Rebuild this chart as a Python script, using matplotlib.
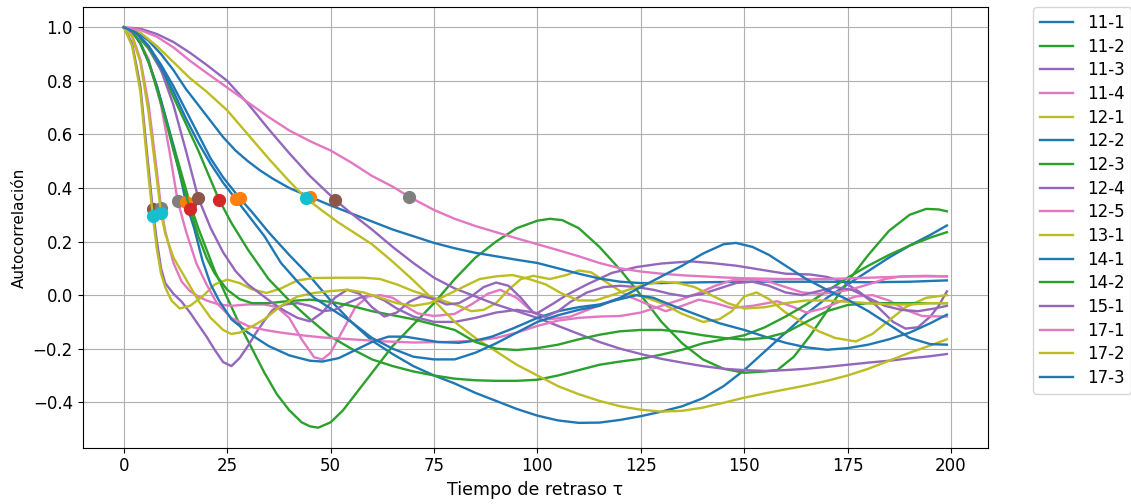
"""Autocorrelation curves per sample with their 1/e decorrelation lag."""

from __future__ import annotations

import matplotlib

matplotlib.use("Agg")
import matplotlib.pyplot as plt

LABELS = ["11-1", "11-2", "11-3", "11-4", "12-1", "12-2", "12-3", "12-4",
          "12-5", "13-1", "14-1", "14-2", "15-1", "17-1", "17-2", "17-3"]

# (lag, autocorrelation) pairs for each sample
ACF_11_1 = [(0, 1.0), (3, 0.98), (6, 0.93), (9, 0.86), (12, 0.78), (15, 0.69), (18, 0.6), (21, 0.51),
            (24, 0.44), (28, 0.362), (31, 0.31), (35, 0.235), (40, 0.15), (45, 0.07), (50, -0.02),
            (55, -0.1), (60, -0.17), (65, -0.22), (70, -0.265), (75, -0.3), (80, -0.33), (85, -0.365),
            (90, -0.395), (95, -0.425), (100, -0.45), (105, -0.468), (110, -0.477), (115, -0.476),
            (120, -0.466), (125, -0.452), (130, -0.435), (135, -0.415), (140, -0.385), (145, -0.34),
            (150, -0.28), (155, -0.21), (160, -0.14), (165, -0.07), (170, -0.01), (175, 0.04),
            (180, 0.09), (185, 0.14), (190, 0.185), (195, 0.225), (199, 0.26)]
ACF_11_2 = [(0, 1.0), (2, 0.985), (4, 0.94), (6, 0.87), (8, 0.78), (10, 0.67), (12, 0.56), (14, 0.45),
            (16, 0.342), (18, 0.25), (20, 0.17), (22, 0.09), (25, -0.01), (28, -0.11), (31, -0.2),
            (34, -0.29), (37, -0.37), (40, -0.43), (43, -0.475), (45, -0.49), (47, -0.495), (50, -0.475),
            (53, -0.43), (56, -0.37), (60, -0.29), (65, -0.19), (70, -0.11), (75, -0.03), (80, 0.06),
            (85, 0.14), (90, 0.2), (95, 0.25), (100, 0.278), (103, 0.285), (106, 0.28), (110, 0.25),
            (115, 0.18), (120, 0.095), (125, 0.0), (130, -0.1), (135, -0.18), (140, -0.24), (145, -0.275),
            (150, -0.29), (155, -0.285), (158, -0.28), (162, -0.23), (166, -0.15), (170, -0.06),
            (175, 0.05), (180, 0.15), (185, 0.24), (190, 0.3), (194, 0.322), (197, 0.32), (199, 0.313)]
ACF_11_3 = [(0, 1.0), (2, 0.94), (4, 0.78), (6, 0.47), (7, 0.32), (8, 0.2), (9, 0.1), (10, 0.045),
            (12, 0.005), (14, -0.025), (16, -0.065), (18, -0.11), (20, -0.155), (22, -0.205), (24, -0.25),
            (26, -0.265), (28, -0.235), (30, -0.19), (32, -0.14), (34, -0.095), (36, -0.055), (39, -0.035),
            (42, -0.03), (45, -0.04), (48, -0.06), (51, -0.055), (54, -0.03), (57, -0.01), (60, 0.0),
            (63, -0.02), (66, -0.05), (70, -0.08), (75, -0.1), (80, -0.1), (85, -0.085), (90, -0.065),
            (95, -0.055), (100, -0.067), (104, -0.03), (107, 0.0), (112, 0.04), (118, 0.083), (124, 0.105),
            (130, 0.118), (137, 0.126), (142, 0.12), (148, 0.11), (154, 0.095), (160, 0.08), (166, 0.077),
            (170, 0.068), (174, 0.05), (178, 0.01), (182, -0.04), (186, -0.1), (189, -0.125), (192, -0.12),
            (195, -0.08), (197, -0.04), (199, 0.014)]
ACF_11_4 = [(0, 1.0), (2, 0.97), (4, 0.88), (6, 0.71), (8, 0.46), (9, 0.327), (10, 0.24), (12, 0.12),
            (14, 0.05), (16, 0.015), (18, -0.005), (20, -0.02), (23, -0.035), (26, -0.04), (30, -0.035),
            (34, -0.035), (37, -0.045), (40, -0.085), (43, -0.165), (46, -0.232), (48, -0.24), (50, -0.215),
            (53, -0.13), (56, -0.045), (59, -0.005), (62, 0.0), (65, -0.01), (68, -0.04), (71, -0.068),
            (75, -0.078), (80, -0.07), (84, -0.035), (88, 0.005), (91, 0.02), (95, -0.01), (99, -0.065),
            (103, -0.09), (108, -0.08), (113, -0.05), (118, -0.02), (122, -0.004), (126, -0.03),
            (131, -0.06), (135, -0.04), (139, -0.017), (143, -0.03), (147, -0.048), (152, -0.04),
            (158, -0.023), (162, -0.045), (165, -0.065), (169, -0.05), (173, -0.025), (177, -0.005),
            (181, 0.0), (185, -0.02), (189, -0.055), (193, -0.078), (199, -0.08)]
ACF_12_1 = [(0, 1.0), (2, 0.93), (4, 0.76), (6, 0.44), (7, 0.297), (8, 0.17), (9, 0.08), (10, 0.03),
            (11.5, -0.02), (13.5, -0.05), (16, -0.04), (19, -0.005), (22, 0.04), (25, 0.058), (28, 0.045),
            (31, 0.022), (34.5, 0.008), (38, 0.025), (42, 0.055), (46, 0.064), (52, 0.065), (58, 0.065),
            (62, 0.06), (66, 0.04), (70, 0.015), (74, -0.005), (78, -0.025), (81, -0.04), (84, -0.06),
            (87, -0.055), (90, -0.03), (93, 0.02), (96, 0.06), (99, 0.072), (103, 0.06), (107, 0.075),
            (110, 0.092), (113, 0.085), (117, 0.045), (121, 0.005), (125, -0.002), (130, -0.03),
            (135, -0.07), (140, -0.1), (144, -0.09), (147, -0.06), (150, -0.005), (153, 0.01),
            (156, -0.015), (160, -0.065), (164, -0.1), (168, -0.135), (172, -0.16), (177, -0.173),
            (181, -0.145), (185, -0.095), (189, -0.045), (194, -0.01), (199, 0.0)]
ACF_12_2 = [(0, 1.0), (3, 0.985), (6, 0.95), (9, 0.9), (12, 0.84), (15, 0.77), (18, 0.71), (21, 0.65),
            (24, 0.59), (27, 0.54), (30, 0.5), (33, 0.465), (36, 0.435), (40, 0.4), (45, 0.367),
            (50, 0.335), (55, 0.305), (60, 0.275), (65, 0.245), (70, 0.22), (75, 0.195), (80, 0.175),
            (85, 0.158), (90, 0.145), (95, 0.132), (100, 0.12), (105, 0.1), (110, 0.08), (115, 0.062),
            (120, 0.05), (125, 0.045), (130, 0.045), (140, 0.048), (150, 0.05), (160, 0.05), (170, 0.05),
            (180, 0.048), (190, 0.05), (199, 0.055)]
ACF_12_3 = [(0, 1.0), (3, 0.975), (6, 0.92), (9, 0.84), (12, 0.74), (15, 0.64), (18, 0.54), (21, 0.43),
            (23, 0.357), (26, 0.27), (30, 0.17), (35, 0.06), (40, -0.02), (45, -0.09), (50, -0.155),
            (55, -0.2), (60, -0.24), (65, -0.265), (70, -0.285), (75, -0.3), (80, -0.312), (85, -0.318),
            (90, -0.32), (95, -0.32), (100, -0.316), (105, -0.3), (110, -0.28), (115, -0.26), (120, -0.248),
            (125, -0.238), (130, -0.222), (135, -0.204), (140, -0.18), (145, -0.165), (150, -0.15),
            (155, -0.12), (160, -0.08), (165, -0.035), (170, 0.015), (175, 0.065), (180, 0.11),
            (185, 0.15), (190, 0.185), (195, 0.215), (199, 0.235)]
ACF_12_4 = [(0, 1.0), (4, 0.995), (8, 0.975), (12, 0.945), (16, 0.905), (20, 0.86), (25, 0.8), (30, 0.715),
            (35, 0.62), (40, 0.53), (45, 0.445), (51, 0.357), (55, 0.305), (60, 0.245), (65, 0.18),
            (70, 0.12), (75, 0.065), (80, 0.025), (85, -0.005), (90, -0.035), (95, -0.06), (100, -0.085),
            (105, -0.115), (110, -0.145), (115, -0.175), (120, -0.2), (125, -0.22), (130, -0.238),
            (135, -0.252), (140, -0.265), (145, -0.275), (150, -0.28), (155, -0.283), (160, -0.28),
            (165, -0.275), (170, -0.268), (175, -0.26), (180, -0.252), (185, -0.245), (190, -0.236),
            (195, -0.228), (199, -0.22)]
ACF_12_5 = [(0, 1.0), (3, 0.97), (6, 0.88), (9, 0.71), (11, 0.54), (13, 0.353), (15, 0.24), (17.5, 0.12),
            (20, 0.04), (22.5, -0.03), (26, -0.085), (30, -0.115), (34, -0.13), (38, -0.14), (43, -0.15),
            (48, -0.158), (55, -0.165), (62, -0.172), (70, -0.177), (78, -0.175), (85, -0.17), (90, -0.16),
            (95, -0.14), (100, -0.115), (105, -0.095), (110, -0.085), (115, -0.08), (120, -0.078),
            (125, -0.065), (131, -0.035), (135, -0.015), (139, 0.008), (143, 0.035), (147, 0.055),
            (152, 0.06), (156, 0.05), (160, 0.03), (164, 0.01), (168, 0.005), (172, 0.01), (176, 0.022),
            (180, 0.04), (184, 0.06), (188, 0.07), (194, 0.072), (199, 0.07)]
ACF_13_1 = [(0, 1.0), (4, 0.98), (8, 0.93), (12, 0.87), (16, 0.81), (20, 0.76), (25, 0.69), (30, 0.6),
            (35, 0.51), (40, 0.425), (44, 0.363), (48, 0.315), (52, 0.27), (56, 0.23), (60, 0.19),
            (65, 0.125), (70, 0.055), (75, -0.02), (80, -0.1), (85, -0.16), (90, -0.21), (95, -0.26),
            (100, -0.3), (105, -0.34), (110, -0.37), (115, -0.395), (120, -0.415), (125, -0.428),
            (130, -0.435), (135, -0.432), (140, -0.42), (145, -0.402), (150, -0.383), (155, -0.367),
            (160, -0.352), (165, -0.337), (170, -0.32), (175, -0.3), (180, -0.275), (185, -0.245),
            (190, -0.215), (195, -0.188), (199, -0.165)]
ACF_14_1 = [(0, 1.0), (2, 0.985), (4, 0.94), (6, 0.87), (8, 0.78), (10, 0.67), (12, 0.55), (14, 0.42),
            (15, 0.347), (17, 0.25), (19, 0.13), (21, 0.04), (23, -0.02), (26, -0.09), (30, -0.14),
            (35, -0.19), (40, -0.225), (45, -0.245), (48, -0.248), (52, -0.235), (56, -0.205), (60, -0.175),
            (64, -0.155), (68, -0.155), (72, -0.165), (76, -0.175), (81, -0.178), (85, -0.17), (89, -0.155),
            (94, -0.125), (100, -0.085), (105, -0.06), (110, -0.045), (115, -0.035), (120, -0.015),
            (124, 0.0), (128, -0.01), (132, -0.035), (138, -0.07), (144, -0.105), (150, -0.13),
            (155, -0.155), (160, -0.178), (165, -0.195), (170, -0.204), (175, -0.198), (180, -0.185),
            (185, -0.165), (190, -0.14), (195, -0.105), (199, -0.073)]
ACF_14_2 = [(0, 1.0), (2, 0.985), (4, 0.94), (6, 0.87), (8, 0.77), (10, 0.66), (12, 0.54), (14, 0.43),
            (16, 0.322), (18, 0.22), (20, 0.14), (22, 0.08), (25, 0.02), (28, -0.015), (31, -0.03),
            (35, -0.03), (40, -0.022), (45, -0.017), (50, -0.025), (55, -0.04), (60, -0.06), (65, -0.075),
            (70, -0.09), (75, -0.11), (80, -0.13), (85, -0.175), (90, -0.2), (95, -0.205), (100, -0.198),
            (105, -0.185), (110, -0.165), (115, -0.148), (120, -0.135), (125, -0.13), (130, -0.13),
            (135, -0.137), (140, -0.15), (145, -0.16), (150, -0.166), (155, -0.16), (160, -0.14),
            (165, -0.1), (170, -0.06), (175, -0.037), (180, -0.03), (185, -0.03), (190, -0.03),
            (195, -0.03), (199, -0.03)]
ACF_15_1 = [(0, 1.0), (3, 0.98), (6, 0.93), (9, 0.84), (12, 0.71), (15, 0.54), (18, 0.363), (21, 0.25),
            (24, 0.16), (27, 0.09), (30, 0.04), (33, 0.005), (36, -0.03), (39, -0.06), (42, -0.085),
            (45, -0.098), (48, -0.065), (51, -0.01), (54, 0.02), (57, 0.005), (60, -0.045), (63, -0.08),
            (66, -0.065), (69, -0.025), (72, -0.004), (75, -0.015), (78, -0.035), (81, -0.03), (84, -0.005),
            (87, 0.03), (90, 0.047), (93, 0.035), (96, -0.01), (99, -0.065), (102, -0.08), (105, -0.06),
            (108, -0.025), (112, 0.01), (116, 0.03), (120, 0.035), (124, 0.03), (128, 0.02), (132, 0.005),
            (136, -0.005), (140, 0.005), (144, 0.025), (148, 0.045), (152, 0.05), (156, 0.035), (160, 0.01),
            (164, 0.0), (168, 0.015), (172, 0.03), (176, 0.02), (180, -0.01), (184, -0.04), (188, -0.055),
            (192, -0.06), (196, -0.05), (199, -0.04)]
ACF_17_1 = [(0, 1.0), (4, 0.99), (8, 0.965), (12, 0.925), (16, 0.875), (20, 0.83), (25, 0.775), (30, 0.72),
            (35, 0.665), (40, 0.615), (45, 0.575), (50, 0.54), (55, 0.495), (60, 0.445), (65, 0.405),
            (69, 0.367), (75, 0.318), (80, 0.285), (85, 0.258), (90, 0.235), (95, 0.212), (100, 0.19),
            (105, 0.168), (110, 0.145), (115, 0.12), (120, 0.1), (125, 0.088), (130, 0.08), (135, 0.074),
            (140, 0.07), (145, 0.066), (150, 0.063), (160, 0.06), (170, 0.06), (180, 0.065), (190, 0.07),
            (199, 0.07)]
ACF_17_2 = [(0, 1.0), (2, 0.965), (4, 0.87), (6, 0.68), (8, 0.43), (9, 0.307), (10, 0.23), (12, 0.14),
            (15, 0.06), (18, -0.02), (21, -0.085), (24, -0.13), (26, -0.145), (28, -0.14), (31, -0.117),
            (34, -0.09), (38, -0.04), (42, -0.005), (46, 0.008), (50, 0.015), (54, 0.02), (58, 0.01),
            (62, -0.01), (66, -0.03), (70, -0.04), (74, -0.03), (78, 0.0), (82, 0.03), (86, 0.06),
            (90, 0.07), (94, 0.075), (98, 0.06), (102, 0.04), (106, 0.005), (110, -0.02), (114, -0.02),
            (118, 0.0), (122, 0.02), (126, 0.04), (130, 0.05), (134, 0.045), (138, 0.03), (142, 0.0),
            (146, -0.03), (150, -0.05), (155, -0.045), (160, -0.03), (165, -0.02), (170, -0.02),
            (175, -0.025), (180, -0.03), (185, -0.035), (190, -0.035), (195, -0.03), (199, -0.03)]
ACF_17_3 = [(0, 1.0), (3, 0.98), (6, 0.93), (9, 0.85), (12, 0.76), (15, 0.66), (18, 0.57), (21, 0.49),
            (24, 0.42), (27, 0.36), (30, 0.3), (34, 0.22), (38, 0.12), (42, 0.05), (46, -0.01), (50, -0.05),
            (55, -0.1), (60, -0.16), (65, -0.2), (70, -0.23), (75, -0.24), (80, -0.24), (85, -0.215),
            (90, -0.18), (95, -0.14), (100, -0.1), (105, -0.075), (110, -0.055), (115, -0.04), (120, -0.01),
            (125, 0.03), (130, 0.07), (135, 0.11), (140, 0.155), (145, 0.19), (148, 0.195), (152, 0.18),
            (156, 0.15), (160, 0.11), (165, 0.06), (170, 0.02), (175, -0.017), (180, -0.06), (185, -0.11),
            (190, -0.16), (195, -0.183), (199, -0.185)]

CURVES = [ACF_11_1, ACF_11_2, ACF_11_3, ACF_11_4, ACF_12_1, ACF_12_2, ACF_12_3, ACF_12_4,
          ACF_12_5, ACF_13_1, ACF_14_1, ACF_14_2, ACF_15_1, ACF_17_1, ACF_17_2, ACF_17_3]

# first lag below 1/e and the autocorrelation there
TAU_E = [28, 16, 7, 9, 7, 45, 23, 51, 13, 44, 15, 16, 18, 69, 9, 27]
ACF_AT_TAU_E = [0.362, 0.342, 0.32, 0.327, 0.297, 0.367, 0.357, 0.357,
                0.353, 0.363, 0.347, 0.322, 0.363, 0.367, 0.307, 0.36]


def plot_autocorrelations(out_path: str = "out.png") -> None:
    fig = plt.figure(figsize=(11.31, 5.04), dpi=100)
    ax = fig.add_axes([0.0731, 0.1117, 0.8005, 0.8738])

    for label, curve, tau, val in zip(LABELS, CURVES, TAU_E, ACF_AT_TAU_E):
        lags = [p[0] for p in curve]
        acf = [p[1] for p in curve]
        ax.plot(lags, acf, linewidth=1.7, label=label)
        ax.plot(tau, val, "o", markersize=8.5)

    ax.grid(True)
    ax.set_xticks([0, 25, 50, 75, 100, 125, 150, 175, 200])
    ax.set_yticks([-0.4, -0.2, 0.0, 0.2, 0.4, 0.6, 0.8, 1.0])
    ax.tick_params(labelsize=12)
    ax.set_xlabel("Tiempo de retraso τ", fontsize=12.5)
    ax.set_ylabel("Autocorrelación", fontsize=11)
    ax.legend(loc="upper left", bbox_to_anchor=(1.05, 1), borderaxespad=0,
              fontsize=12, labelspacing=0.34)

    fig.savefig(out_path, dpi=100)
    plt.close(fig)


if __name__ == "__main__":
    plot_autocorrelations()
